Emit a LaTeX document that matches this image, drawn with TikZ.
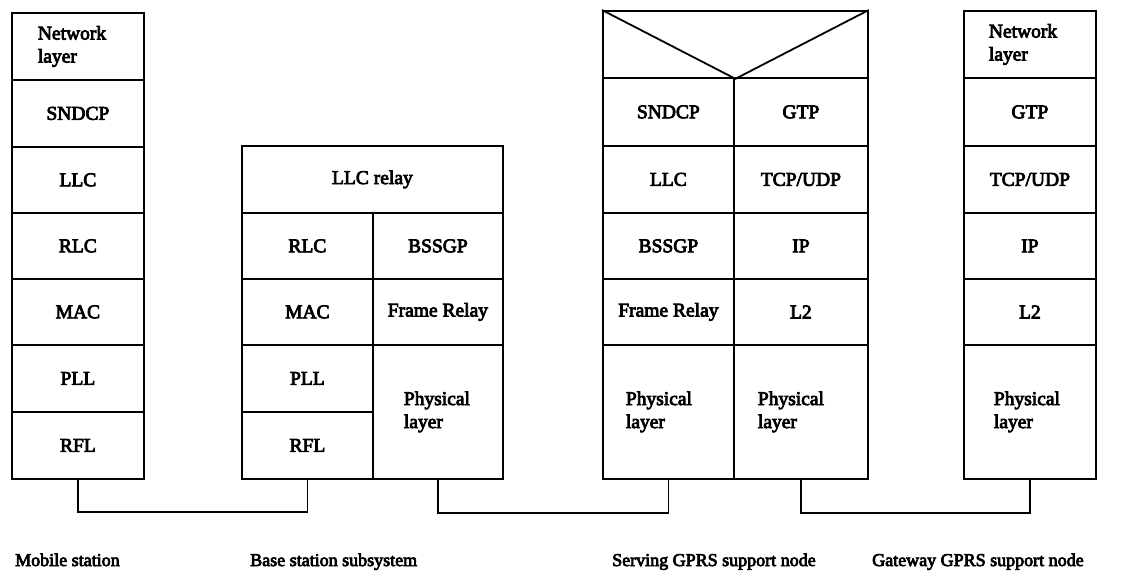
\documentclass[tikz,border=0pt]{standalone}
\usepackage{fontspec}
\setmainfont{Liberation Serif}
\newfontfamily\heavyserif{Liberation Serif}[FakeBold=4]
\begin{document}
\begin{tikzpicture}[x=1pt,y=-1pt,
  every node/.style={font=\heavyserif\fontsize{19.5}{23}\selectfont},
  layer/.style={draw, line width=1.8pt, inner sep=0pt, anchor=north west},
  wire/.style={draw, line width=1.8pt},
  caption/.style={anchor=base west, inner sep=0pt, font=\heavyserif\fontsize{18}{21}\selectfont}]
\useasboundingbox (0,0) rectangle (1135,576);

% Mobile station
\node[layer, minimum width=132, minimum height=67, align=left, text width=80] (ms-net) at (11,12) {Network\\layer};
\node[layer, minimum width=132, minimum height=67] (ms-sndcp) at (11,79) {SNDCP};
\node[layer, minimum width=132, minimum height=66] (ms-llc) at (11,146) {LLC};
\node[layer, minimum width=132, minimum height=66] (ms-rlc) at (11,212) {RLC};
\node[layer, minimum width=132, minimum height=66] (ms-mac) at (11,278) {MAC};
\node[layer, minimum width=132, minimum height=67] (ms-pll) at (11,344) {PLL};
\node[layer, minimum width=132, minimum height=67] (ms-rfl) at (11,411) {RFL};

% Base station subsystem
\node[layer, minimum width=261, minimum height=67] (bss-relay) at (241,145) {LLC relay};
\node[layer, minimum width=131, minimum height=66] (bss-rlc) at (241,212) {RLC};
\node[layer, minimum width=130, minimum height=66] (bss-bssgp) at (372,212) {BSSGP};
\node[layer, minimum width=131, minimum height=66] (bss-mac) at (241,278) {MAC};
\node[layer, minimum width=130, minimum height=66] (bss-fr) at (372,278) {Frame Relay};
\node[layer, minimum width=131, minimum height=67] (bss-pll) at (241,344) {PLL};
\node[layer, minimum width=131, minimum height=67] (bss-rfl) at (241,411) {RFL};
\node[layer, minimum width=130, minimum height=134, align=left, text width=68] (bss-phy) at (372,344) {Physical\\layer};

% Serving GPRS support node
\node[layer, minimum width=265, minimum height=67] (sgsn-top) at (602,10) {};
\draw[line width=1.8pt] (sgsn-top.north west) -- (sgsn-top.south) -- (sgsn-top.north east);
\node[layer, minimum width=131, minimum height=68] (sgsn-sndcp) at (602,77) {SNDCP};
\node[layer, minimum width=134, minimum height=68] (sgsn-gtp) at (733,77) {GTP};
\node[layer, minimum width=131, minimum height=67] (sgsn-llc) at (602,145) {LLC};
\node[layer, minimum width=134, minimum height=67] (sgsn-tcp) at (733,145) {TCP/UDP};
\node[layer, minimum width=131, minimum height=66] (sgsn-bssgp) at (602,212) {BSSGP};
\node[layer, minimum width=134, minimum height=66] (sgsn-ip) at (733,212) {IP};
\node[layer, minimum width=131, minimum height=66] (sgsn-fr) at (602,278) {Frame Relay};
\node[layer, minimum width=134, minimum height=66] (sgsn-l2) at (733,278) {L2};
\node[layer, minimum width=131, minimum height=134, align=left, text width=85] (sgsn-phyl) at (602,344) {Physical\\layer};
\node[layer, minimum width=134, minimum height=134, align=left, text width=86] (sgsn-phyr) at (733,344) {Physical\\layer};

% Gateway GPRS support node
\node[layer, minimum width=132, minimum height=67, align=left, text width=82] (ggsn-net) at (963,10) {Network\\layer};
\node[layer, minimum width=132, minimum height=68] (ggsn-gtp) at (963,77) {GTP};
\node[layer, minimum width=132, minimum height=67] (ggsn-tcp) at (963,145) {TCP/UDP};
\node[layer, minimum width=132, minimum height=66] (ggsn-ip) at (963,212) {IP};
\node[layer, minimum width=132, minimum height=66] (ggsn-l2) at (963,278) {L2};
\node[layer, minimum width=132, minimum height=134, align=left, text width=72] (ggsn-phy) at (963,344) {Physical\\layer};

% Physical links between the nodes
\draw[wire] (ms-rfl.south) -- ++(0,32) -| (bss-rfl.south);
\draw[wire] (bss-phy.south) -- ++(0,33) -| (sgsn-phyl.south);
\draw[wire] (sgsn-phyr.south) -- ++(0,33) -| (ggsn-phy.south);

% Node captions
\node[caption] (cap-ms) at (15,566) {Mobile station};
\node[caption] (cap-bss) at (250,566) {Base station subsystem};
\node[caption] (cap-sgsn) at (612,566) {Serving GPRS support node};
\node[caption] (cap-ggsn) at (872,566) {Gateway GPRS support node};
\end{tikzpicture}
\end{document}
